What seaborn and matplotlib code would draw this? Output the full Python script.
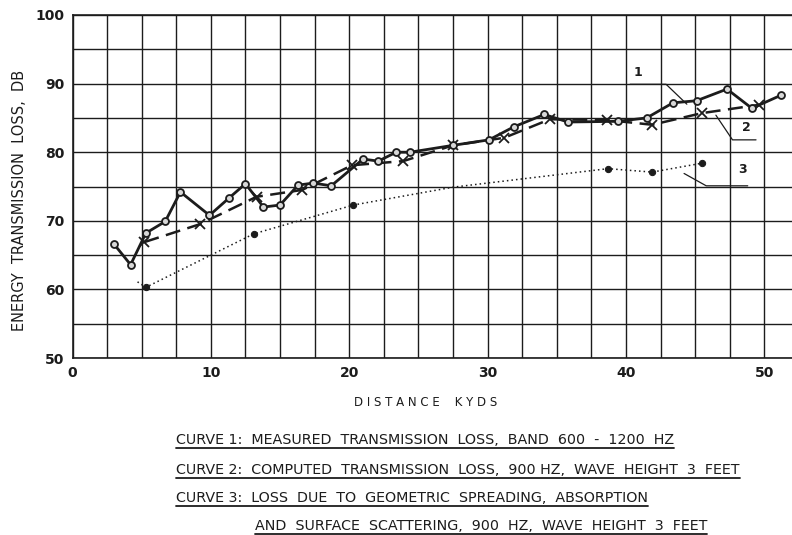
import matplotlib
matplotlib.use("Agg")
import matplotlib.pyplot as plt
import seaborn as sns
import numpy as np
import pandas as pd
from matplotlib.lines import Line2D

# ---- data ----
c1_x = [3.0, 4.2, 5.3, 6.7, 7.8, 9.9, 11.3, 12.5, 13.8, 15.0, 16.3, 17.4, 18.7,
        21.0, 22.1, 23.4, 24.4, 27.5, 30.1, 31.9, 34.1, 35.8, 39.4, 41.5,
        43.4, 45.1, 47.3, 49.1, 51.2]
c1_y = [66.6, 63.6, 68.2, 69.9, 74.2, 70.8, 73.3, 75.4, 72.0, 72.3, 75.2, 75.5, 75.1,
        79.0, 78.7, 80.0, 80.0, 81.0, 81.8, 83.7, 85.5, 84.4, 84.5, 85.0,
        87.2, 87.5, 89.2, 86.4, 88.3]

c2_x = [5.2, 9.2, 13.3, 16.6, 20.2, 23.9, 27.5, 31.2, 34.5, 38.6, 41.9, 45.5, 49.6]
c2_y = [66.9, 69.5, 73.5, 74.5, 78.1, 78.7, 81.0, 82.1, 84.8, 84.7, 84.0, 85.7, 86.9]

c3_x = [4.7, 5.3, 13.1, 20.3, 27.5, 38.7, 41.9, 45.5]
c3_y = [61.1, 60.3, 68.1, 72.3, 74.9, 77.6, 77.1, 78.4]
c3_marked = [1, 2, 3, 5, 6, 7]

x_ticks = [0, 10, 20, 30, 40, 50]
y_ticks = [50, 60, 70, 80, 90, 100]

captions = [
    "CURVE 1:  MEASURED  TRANSMISSION  LOSS,  BAND  600  -  1200  HZ",
    "CURVE 2:  COMPUTED  TRANSMISSION  LOSS,  900 HZ,  WAVE  HEIGHT  3  FEET",
    "CURVE 3:  LOSS  DUE  TO  GEOMETRIC  SPREADING,  ABSORPTION",
    "AND  SURFACE  SCATTERING,  900  HZ,  WAVE  HEIGHT  3  FEET",
]

sns.set_style("white")
plt.rcParams['font.family'] = ['DejaVu Sans']

W, H = 792, 535
fig = plt.figure(figsize=(W / 100, H / 100), dpi=100)
ax = fig.add_axes([72.5 / W, 1 - 358 / H, (792 - 72.5) / W, (358 - 15) / H])

ink = "#1c1c1c"

sns.lineplot(x=c3_x, y=c3_y, ax=ax, color=ink, linestyle=(0, (1, 2)), linewidth=1.1,
             marker="o", markersize=4.5, markevery=c3_marked, markerfacecolor=ink,
             markeredgecolor=ink, sort=False, zorder=3)
sns.lineplot(x=c2_x, y=c2_y, ax=ax, color=ink, linestyle=(0, (6, 3)), linewidth=1.8,
             marker="x", markersize=7, markeredgewidth=1.3, markeredgecolor=ink,
             sort=False, zorder=4)
sns.lineplot(x=c1_x, y=c1_y, ax=ax, color=ink, linestyle="-", linewidth=2.0,
             marker="o", markersize=5, markerfacecolor="#d8d8d8", markeredgecolor=ink,
             markeredgewidth=1.3, sort=False, zorder=5)

ax.set_xlim(0, 52)
ax.set_ylim(50, 100)
ax.set_xticks(np.arange(0, 52.1, 2.5), minor=False)
ax.set_yticks(np.arange(50, 100.1, 5))
ax.grid(True, color=ink, linewidth=1.0)
ax.set_xticklabels([str(int(v)) if v in x_ticks else "" for v in np.arange(0, 52.1, 2.5)])
ax.set_yticklabels([str(int(v)) if v in y_ticks else "" for v in np.arange(50, 100.1, 5)])
ax.tick_params(length=0, labelsize=10, colors=ink, pad=6)
for lab in ax.get_xticklabels() + ax.get_yticklabels():
    lab.set_fontweight("bold")
for side in ["left", "bottom", "top"]:
    ax.spines[side].set_color(ink)
    ax.spines[side].set_linewidth(1.2)
ax.spines["right"].set_visible(False)
ax.set_xlabel("")
ax.set_ylabel("")

fig.text(426 / W, 1 - 403 / H, "D I S T A N C E    K Y D S",
         ha="center", va="center", fontsize=8.5, color=ink)
fig.text(20 / W, 1 - 200 / H, "ENERGY  TRANSMISSION  LOSS,  DB", rotation=90,
         ha="center", va="center", fontsize=10.5, color=ink)

# curve labels with leader lines (data coordinates)
ax.text(40.9, 90.6, "1", fontsize=9, color=ink, ha="center", va="bottom", fontweight="bold")
ax.plot([40.3, 42.9, 44.4], [89.9, 89.9, 87.0], color=ink, linewidth=0.9)
ax.text(48.7, 82.6, "2", fontsize=9, color=ink, ha="center", va="bottom", fontweight="bold")
ax.plot([46.5, 47.7, 49.4], [85.4, 81.8, 81.8], color=ink, linewidth=0.9)
ax.text(48.4, 76.6, "3", fontsize=9, color=ink, ha="center", va="bottom", fontweight="bold")
ax.plot([44.2, 45.8, 48.8], [76.9, 75.1, 75.1], color=ink, linewidth=0.9)

# captions with underlines
cap_pos = [(176, 440), (176, 470), (176, 498), (255, 526)]
texts = []
for (px, py), s in zip(cap_pos, captions):
    t = fig.text(px / W, 1 - py / H, s, ha="left", va="center", fontsize=10.3,
                 color=ink)
    texts.append(t)
fig.canvas.draw()
r = fig.canvas.get_renderer()
for t in texts:
    bb = t.get_window_extent(r)
    y = (bb.y0 - 1) / H
    fig.add_artist(Line2D([bb.x0 / W, bb.x1 / W], [y, y], color=ink, linewidth=1.3))

fig.savefig("out.png", dpi=100, facecolor="white")
